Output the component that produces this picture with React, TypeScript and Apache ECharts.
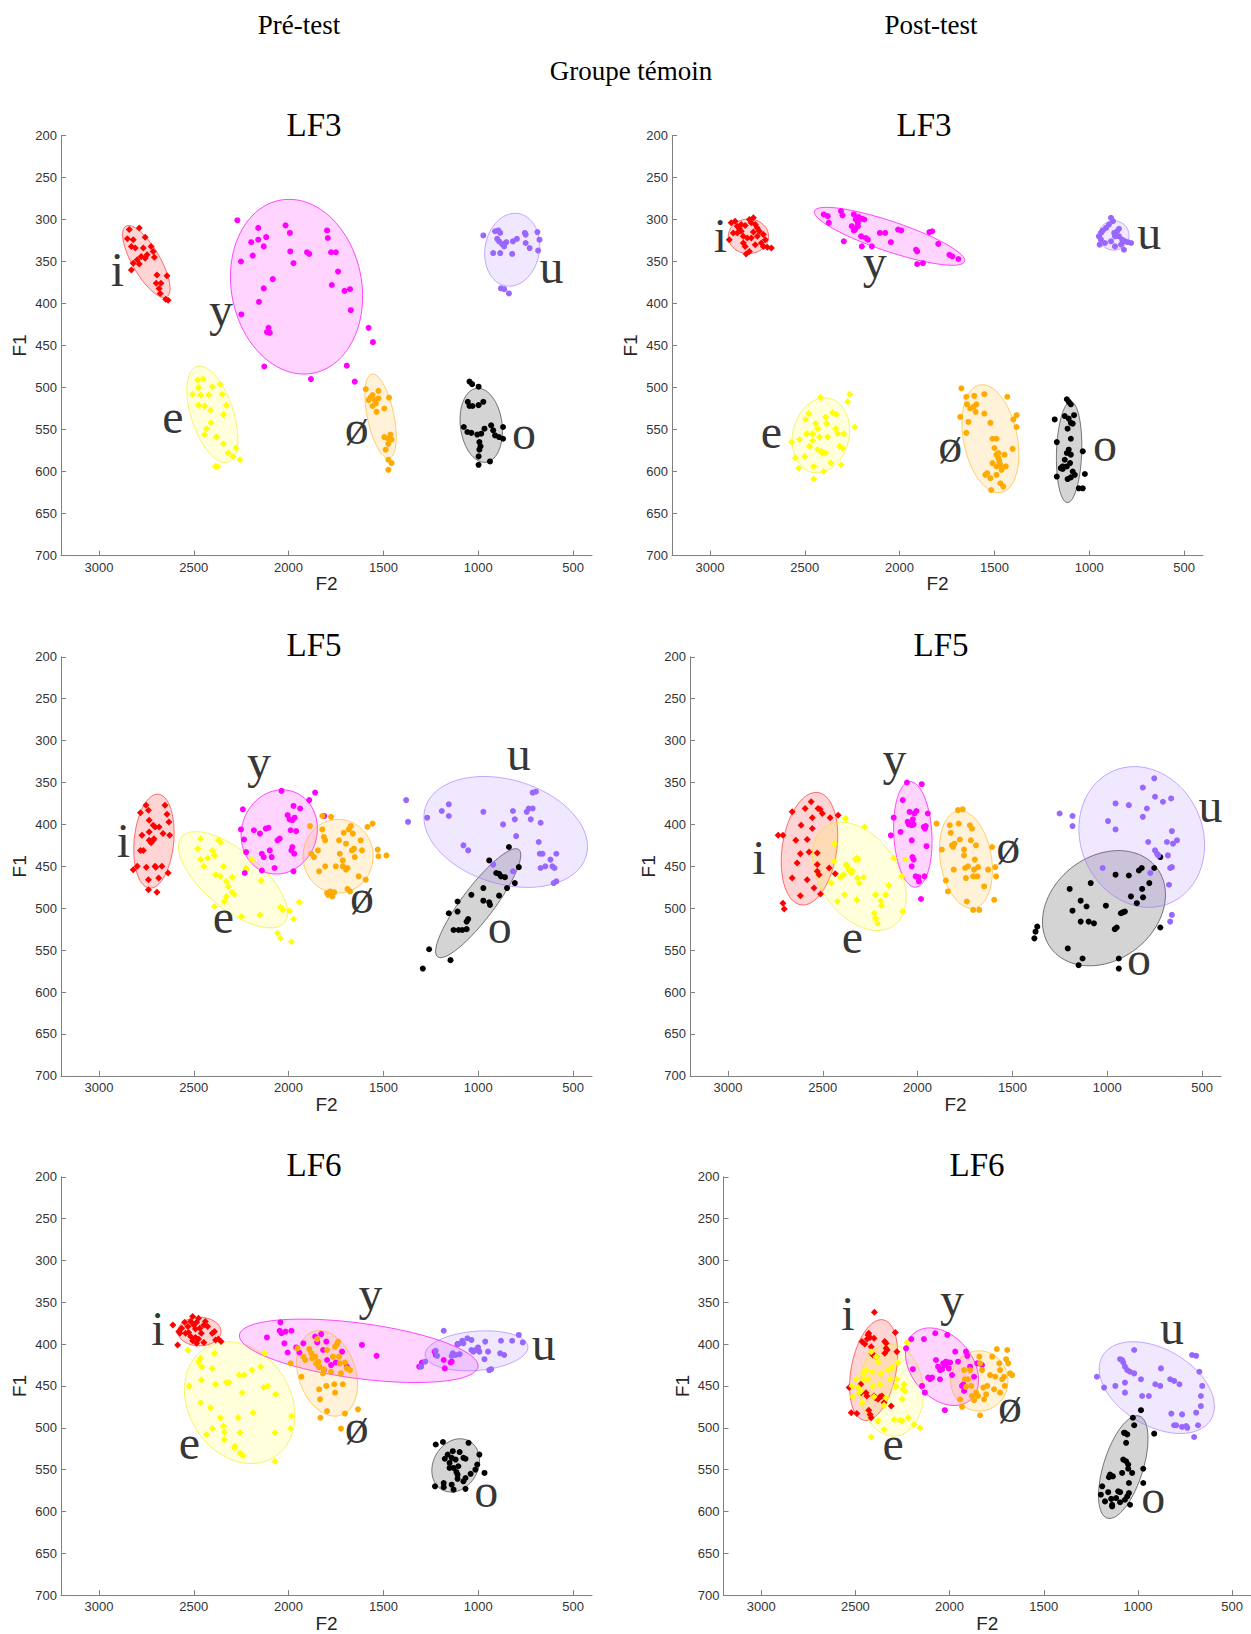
import { useEffect, useRef } from 'react';
import * as echarts from 'echarts';

// ---------- shared categories / ticks ----------
const VOWELS = ['i', 'e', 'y', 'ø', 'o', 'u'];
const X_TICKS = [500, 1000, 1500, 2000, 2500, 3000];
const Y_TICKS = [200, 250, 300, 350, 400, 450, 500, 550, 600, 650, 700];
const COLUMN_HEADERS = ['Pré-test', 'Post-test'];
const GROUP_TITLE = 'Groupe témoin';
const PANEL_TITLES = ['LF3', 'LF3', 'LF5', 'LF5', 'LF6', 'LF6'];

// ---------- LF3 pré-test ----------
const lf3Pre_i = [[2840,312],[2787,310],[2850,323],[2819,324],[2756,321],[2829,332],[2808,334],[2766,334],[2725,332],[2714,338],[2746,342],[2777,344],[2756,346],[2798,348],[2708,345],[2819,352],[2787,353],[2829,360],[2694,366],[2641,367],[2698,376],[2673,376],[2683,382],[2677,388],[2648,395],[2635,396]];
const lf3Pre_e = [[2479,491],[2450,490],[2475,500],[2506,508],[2464,509],[2402,499],[2360,496],[2350,508],[2422,509],[2475,521],[2443,522],[2412,527],[2329,521],[2343,532],[2410,542],[2433,549],[2443,556],[2381,559],[2343,567],[2277,572],[2318,578],[2293,582],[2256,586],[2385,594],[2375,594]];
const lf3Pre_y = [[2270,301],[2251,350],[2197,327],[2189,343],[2160,310],[2160,324],[2131,332],[2118,321],[2131,382],[2156,398],[2083,371],[2016,307],[1993,316],[1991,338],[1974,352],[1903,339],[1891,341],[1797,313],[1793,322],[1776,339],[1751,339],[1739,362],[1772,378],[1705,385],[1676,383],[1672,408],[2249,413],[2106,429],[2099,435],[2114,434],[2128,475],[1882,490],[1693,474],[1651,493],[1578,429],[1555,446]];
const lf3Pre_oe = [[1593,502],[1526,504],[1557,509],[1568,512],[1578,515],[1547,515],[1526,513],[1540,519],[1470,512],[1557,522],[1495,525],[1536,529],[1495,559],[1474,561],[1457,562],[1463,556],[1474,567],[1488,574],[1474,586],[1457,590],[1474,598]];
const lf3Pre_o = [[1046,493],[1032,496],[998,499],[1055,517],[1046,522],[998,521],[973,517],[1030,522],[1076,547],[1057,553],[1036,554],[1005,556],[984,555],[967,549],[932,545],[921,551],[890,559],[869,561],[911,557],[869,547],[994,565],[988,570],[994,574],[998,582],[998,592],[938,588]];
const lf3Pre_u = [[973,319],[911,314],[894,313],[884,316],[900,323],[890,326],[875,329],[852,327],[863,332],[817,326],[796,323],[754,316],[750,318],[750,328],[729,334],[688,315],[677,324],[684,337],[921,340],[884,340],[821,341],[880,382],[863,383],[838,388]];
// ellipse rows: [vowel index, centre F2, centre F1, major-axis tip F2, tip F1, minor/major ratio]
const lf3Pre_ellipses = [[0,2750,350,2858,308,0.34],[1,2402,532,2485,475,0.42],[2,1958,380,2045,277,0.74],[3,1515,534,1561,484,0.31],[4,984,545,1009,501,0.56],[5,821,336,786,293,0.74]];
const lf3Pre_labels = [[2902,360,'i'],[2610,535,'e'],[2356,407,'y'],[1641,548,'ø'],[759,553,'o'],[613,356,'u']];

// ---------- LF3 post-test ----------
const lf3Post_i = [[2888,304],[2867,302],[2856,308],[2835,306],[2814,307],[2792,300],[2782,304],[2771,298],[2761,306],[2750,310],[2739,314],[2835,314],[2856,316],[2877,316],[2824,320],[2803,322],[2782,322],[2750,320],[2718,318],[2708,324],[2729,328],[2761,330],[2814,332],[2824,328],[2809,341],[2792,338],[2697,333],[2676,334],[2898,324],[2845,311],[2771,315],[2718,332]];
const lf3Post_e = [[2570,565],[2549,584],[2527,562],[2532,596],[2496,538],[2491,555],[2500,582],[2479,531],[2474,570],[2458,563],[2453,594],[2453,609],[2443,543],[2432,549],[2422,559],[2417,512],[2411,576],[2407,578],[2400,600],[2390,535],[2385,543],[2379,559],[2362,590],[2354,530],[2337,549],[2333,532],[2326,555],[2316,570],[2309,592],[2301,572],[2294,555],[2273,517],[2263,508],[2237,547],[2458,555],[2390,578],[2432,574]];
const lf3Post_y = [[2400,294],[2379,296],[2373,304],[2309,290],[2301,295],[2241,294],[2231,300],[2216,297],[2252,308],[2241,313],[2199,299],[2186,300],[2220,308],[2178,322],[2167,324],[2294,326],[2199,332],[2146,332],[2104,316],[2076,316],[2046,327],[2008,312],[1991,313],[1913,336],[1907,338],[1907,353],[1877,352],[1843,315],[1828,314],[1796,329],[1737,342],[1722,344],[1690,347],[2203,320],[2235,312],[2220,304]];
const lf3Post_oe = [[1674,501],[1648,511],[1644,520],[1606,510],[1595,520],[1599,529],[1610,523],[1627,525],[1680,535],[1637,541],[1648,554],[1553,508],[1553,531],[1521,542],[1432,511],[1383,533],[1400,538],[1383,547],[1404,573],[1510,561],[1489,561],[1500,572],[1489,580],[1479,584],[1474,588],[1468,592],[1489,594],[1510,590],[1440,594],[1462,598],[1538,602],[1521,608],[1489,604],[1548,604],[1468,614],[1453,618],[1517,622],[1447,580],[1479,578]];
const lf3Post_o = [[1182,538],[1171,565],[1171,606],[1118,514],[1108,517],[1097,520],[1129,534],[1108,537],[1097,542],[1114,549],[1087,543],[1080,533],[1097,561],[1108,574],[1118,578],[1097,580],[1034,576],[1140,594],[1118,594],[1101,590],[1114,609],[1097,607],[1087,600],[1076,604],[1023,603],[1055,620],[1034,620],[1140,597],[1129,586],[1150,596]];
const lf3Post_u = [[885,298],[875,302],[896,306],[911,310],[928,313],[938,316],[949,320],[938,324],[945,330],[917,328],[885,326],[864,320],[853,314],[843,320],[826,324],[811,326],[796,327],[779,328],[832,330],[817,336],[864,332],[843,311],[868,316]];
const lf3Post_ellipses = [[0,2797,320,2691,320,0.86],[1,2415,557,2369,513,0.74],[2,2053,320,2449,290,0.19],[3,1521,561,1578,497,0.49],[4,1106,577,1097,517,0.25],[5,870,319,790,319,0.97]];
const lf3Post_labels = [[2945,319,'i'],[2676,552,'e'],[2131,350,'y'],[1733,569,'ø'],[917,568,'o'],[684,315,'u']];

// ---------- LF5 pré-test ----------
const lf5Pre_i = [[2819,454],[2798,450],[2781,386],[2773,413],[2781,431],[2766,431],[2752,377],[2739,383],[2735,395],[2735,409],[2735,419],[2725,422],[2714,419],[2704,403],[2710,417],[2704,450],[2700,451],[2750,451],[2739,466],[2739,478],[2714,401],[2683,403],[2668,450],[2662,411],[2652,377],[2641,388],[2631,397],[2627,413],[2635,458],[2685,464],[2694,481]];
const lf5Pre_e = [[2464,417],[2479,429],[2464,442],[2447,450],[2427,440],[2402,431],[2391,437],[2370,419],[2360,421],[2343,450],[2385,460],[2360,462],[2329,468],[2297,463],[2318,474],[2297,481],[2329,486],[2287,483],[2391,498],[2339,492],[2224,452],[2224,454],[2193,442],[2249,510],[2151,508],[2145,467],[2043,499],[2030,502],[1995,503],[1974,513],[2043,536],[1985,540],[1943,493],[2058,530]];
const lf5Pre_y = [[2251,406],[2235,418],[2224,433],[2241,382],[2183,407],[2151,411],[2141,435],[2131,439],[2120,405],[2099,431],[2089,439],[2106,404],[2074,452],[2058,419],[2047,417],[2037,360],[2005,389],[1995,394],[1980,395],[1974,378],[1968,392],[1989,407],[1985,431],[1960,408],[1980,427],[1970,435],[1939,381],[1974,456],[1891,371],[1860,362],[1812,390],[2141,455],[2231,458]];
const lf5Pre_oe = [[1887,402],[1880,435],[1866,439],[1845,431],[1839,456],[1822,406],[1814,415],[1822,390],[1807,419],[1776,391],[1807,450],[1797,482],[1791,484],[1780,480],[1770,486],[1759,481],[1751,450],[1734,419],[1730,435],[1714,443],[1714,450],[1709,410],[1697,423],[1697,454],[1689,452],[1682,406],[1676,480],[1672,402],[1666,431],[1655,429],[1651,439],[1661,411],[1630,462],[1620,419],[1613,431],[1593,466],[1584,403],[1557,399],[1530,430],[1526,438],[1484,437],[1689,477]];
const lf5Pre_o = [[1292,572],[1259,549],[1146,562],[1155,506],[1109,492],[1109,504],[1103,526],[1130,526],[1084,526],[1061,525],[1061,516],[1053,513],[1036,484],[973,491],[942,493],[938,496],[890,485],[942,443],[905,458],[890,459],[880,462],[859,463],[838,427],[807,470],[786,451],[848,476],[973,476]];
const lf5Pre_u = [[1380,371],[1370,397],[1269,392],[1192,384],[1155,376],[1155,390],[1078,425],[1053,431],[973,385],[921,448],[869,400],[817,384],[807,394],[800,414],[744,385],[734,381],[713,381],[723,394],[713,362],[696,361],[681,421],[671,398],[661,435],[675,435],[671,452],[646,450],[619,442],[609,450],[588,435],[598,452],[602,470],[588,468],[817,456]];
const lf5Pre_ellipses = [[0,2710,420,2687,364,0.42],[1,2293,466,2564,415,0.43],[2,2049,409,1974,361,0.88],[3,1739,438,1734,394,0.95],[4,1000,494,786,430,0.24],[5,855,409,431,438,0.62]];
const lf5Pre_labels = [[2871,419,'i'],[2343,510,'e'],[2156,325,'y'],[1613,486,'ø'],[886,522,'o'],[786,315,'u']];

// ---------- LF5 post-test ----------
const lf5Post_i = [[2735,413],[2710,413],[2710,494],[2703,501],[2661,385],[2661,464],[2642,419],[2635,446],[2618,435],[2618,485],[2614,401],[2593,381],[2582,418],[2582,466],[2572,433],[2561,373],[2555,392],[2555,405],[2546,476],[2529,434],[2529,448],[2529,456],[2525,381],[2519,460],[2514,382],[2512,483],[2502,387],[2466,452],[2461,392],[2434,459],[2419,389]];
const lf5Post_e = [[2438,423],[2440,444],[2455,470],[2423,492],[2406,463],[2391,460],[2385,484],[2377,448],[2370,450],[2360,455],[2349,458],[2343,455],[2328,442],[2321,440],[2317,464],[2313,442],[2307,470],[2285,463],[2279,403],[2381,393],[2321,490],[2222,484],[2194,491],[2169,484],[2152,473],[2084,462],[2078,504],[2126,440],[2228,506],[2211,518],[2222,512],[2190,497],[2063,442]];
const lf5Post_y = [[2141,413],[2126,392],[2090,409],[2078,371],[2056,350],[2052,397],[2046,400],[2042,385],[2031,401],[2025,394],[2021,400],[2017,387],[2006,384],[2031,419],[2027,439],[2021,442],[2031,450],[2010,462],[1995,463],[1993,468],[1978,352],[1967,403],[1961,405],[1957,402],[1953,426],[1946,387],[1982,489],[1963,462]];
const lf5Post_oe = [[1900,399],[1872,430],[1851,467],[1840,480],[1830,401],[1825,410],[1819,425],[1813,427],[1809,454],[1805,423],[1787,383],[1783,399],[1777,418],[1762,382],[1755,430],[1755,437],[1749,452],[1745,464],[1740,492],[1734,450],[1724,401],[1719,419],[1713,405],[1707,462],[1702,454],[1698,442],[1692,425],[1685,462],[1681,451],[1675,502],[1707,502],[1649,474],[1628,454],[1607,427],[1590,451],[1586,462],[1596,490]];
const lf5Post_o = [[1384,536],[1378,528],[1369,522],[1208,548],[1198,477],[1183,503],[1151,568],[1140,491],[1130,560],[1140,516],[1109,498],[1098,516],[1087,470],[1070,518],[1007,497],[956,460],[960,525],[950,523],[939,560],[939,572],[928,506],[918,505],[907,504],[886,461],[875,486],[844,494],[833,455],[818,452],[816,477],[811,487],[778,470],[752,452],[720,439],[720,523]];
const lf5Post_u = [[1251,387],[1183,390],[1183,402],[996,396],[956,375],[956,406],[886,377],[812,356],[791,381],[812,391],[784,421],[752,345],[748,367],[706,373],[685,421],[663,369],[659,408],[653,423],[632,419],[659,451],[680,437],[668,452],[737,435],[773,458],[748,431],[731,437],[1024,452],[659,508],[668,516],[674,472]];
const lf5Post_ellipses = [[0,2570,429,2525,362,0.48],[1,2307,462,2487,403,0.65],[2,2025,412,2040,349,0.36],[3,1745,442,1787,384,0.52],[4,1017,500,738,452,0.78],[5,818,415,966,336,0.85]];
const lf5Post_labels = [[2837,440,'i'],[2343,534,'e'],[2122,321,'y'],[1522,426,'ø'],[833,560,'o'],[455,377,'u']];

// ---------- LF6 pré-test ----------
const lf6Pre_i = [[2610,377],[2579,385],[2564,381],[2548,374],[2531,379],[2527,386],[2516,373],[2506,367],[2500,377],[2491,382],[2485,374],[2475,369],[2468,381],[2460,387],[2447,377],[2439,373],[2427,379],[2402,387],[2391,385],[2385,395],[2370,394],[2356,397],[2447,398],[2475,394],[2491,392],[2506,396],[2516,391],[2543,387],[2573,387],[2585,401],[2485,399]];
const lf6Pre_e = [[2531,407],[2464,417],[2458,427],[2475,421],[2391,411],[2402,429],[2523,450],[2460,443],[2385,448],[2464,470],[2412,476],[2433,508],[2402,501],[2360,488],[2343,498],[2339,505],[2339,514],[2287,524],[2283,522],[2256,530],[2241,533],[2329,446],[2314,446],[2260,437],[2235,437],[2245,458],[2266,488],[2256,506],[2193,431],[2147,427],[2131,452],[2110,450],[2068,460],[2187,482],[1985,486],[1989,501],[2072,506],[2072,540],[2126,411]];
const lf6Pre_y = [[2114,392],[2047,384],[2037,387],[2022,399],[2016,385],[1985,384],[2043,374],[2005,410],[1960,404],[1943,410],[1922,399],[1860,391],[1849,398],[1828,388],[1818,407],[1801,397],[1797,419],[1776,425],[1751,422],[1718,409],[1693,427],[1613,401],[1536,414],[1230,409],[1224,413],[1182,419],[1146,422],[1140,421],[1176,429],[1109,400],[1297,422],[1311,427],[1839,427],[1814,431]];
const lf6Pre_oe = [[1989,423],[1953,405],[1932,439],[1922,415],[1912,419],[1891,406],[1880,411],[1876,417],[1860,415],[1855,423],[1843,421],[1839,427],[1839,454],[1834,466],[1832,488],[1818,435],[1814,430],[1801,450],[1797,480],[1776,433],[1766,415],[1759,448],[1755,458],[1745,400],[1739,397],[1734,415],[1730,423],[1724,435],[1714,448],[1703,422],[1693,429],[1676,431],[1634,478],[1703,483],[1724,501],[1755,403],[1797,407],[1849,394]];
const lf6Pre_o = [[1224,520],[1186,517],[1182,566],[1228,570],[1182,571],[1176,537],[1161,532],[1151,542],[1140,536],[1151,548],[1134,528],[1130,548],[1119,538],[1115,553],[1105,546],[1098,529],[1078,536],[1067,537],[1109,561],[1078,564],[1051,518],[1067,560],[1040,555],[1005,544],[1015,550],[994,532],[967,554],[1130,574],[1067,573],[1140,568],[1109,556]];
const lf6Pre_u = [[1301,427],[1280,421],[1224,408],[1217,414],[1182,384],[1140,414],[1134,411],[1119,413],[1105,400],[1098,412],[1084,396],[1078,399],[1057,393],[1036,395],[1036,407],[1026,409],[1015,407],[1001,404],[994,409],[967,418],[948,409],[942,431],[932,430],[880,396],[863,413],[884,411],[821,396],[786,389],[765,398],[963,397]];
const lf6Pre_ellipses = [[0,2470,385,2356,385,0.66],[1,2258,470,2441,405,0.79],[2,1630,408,1001,427,0.23],[3,1797,435,1870,385,0.65],[4,1119,545,1046,516,0.8],[5,1009,408,738,403,0.38]];
const lf6Pre_labels = [[2689,381,'i'],[2523,518,'e'],[1568,339,'y'],[1641,499,'ø'],[957,575,'o'],[654,399,'u']];

// ---------- LF6 post-test ----------
const lf6Post_i = [[2522,482],[2492,483],[2533,452],[2471,448],[2469,458],[2465,397],[2450,400],[2437,394],[2439,462],[2433,389],[2429,387],[2422,392],[2416,403],[2412,411],[2407,413],[2401,393],[2399,362],[2390,415],[2422,484],[2416,488],[2429,479],[2401,462],[2395,464],[2380,466],[2369,463],[2359,462],[2348,470],[2344,397],[2337,399],[2337,405],[2344,411],[2331,407],[2310,474],[2288,386],[2280,409],[2444,458]];
const lf6Post_e = [[2518,450],[2514,463],[2497,442],[2486,452],[2480,458],[2471,456],[2465,470],[2458,435],[2454,442],[2444,431],[2433,442],[2416,409],[2412,433],[2407,450],[2401,463],[2390,415],[2380,421],[2369,448],[2365,435],[2348,473],[2337,464],[2327,431],[2316,442],[2305,428],[2295,490],[2288,452],[2284,450],[2278,442],[2274,422],[2263,491],[2252,492],[2248,454],[2242,448],[2237,456],[2225,398],[2220,488],[2189,496],[2157,500],[2252,466],[2416,511],[2348,502],[2380,492]];
const lf6Post_y = [[2231,405],[2203,394],[2195,430],[2146,450],[2136,394],[2131,458],[2114,440],[2104,442],[2093,440],[2076,387],[2072,419],[2061,427],[2051,431],[2040,430],[2034,423],[2025,425],[2019,421],[2012,389],[2004,429],[2008,422],[1997,422],[1987,437],[1970,409],[1955,421],[1934,450],[1927,448],[1923,456],[1913,409],[1906,414],[1891,427],[1870,439],[1853,423],[1828,425],[2025,479],[2051,442]];
const lf6Post_oe = [[1944,466],[1934,475],[1923,431],[1919,442],[1913,451],[1902,442],[1891,431],[1885,450],[1881,462],[1870,467],[1859,458],[1849,462],[1842,415],[1838,423],[1828,431],[1821,452],[1817,466],[1806,460],[1800,450],[1838,485],[1785,437],[1774,415],[1764,454],[1757,439],[1749,406],[1736,423],[1732,431],[1721,442],[1711,439],[1707,450],[1700,418],[1694,407],[1689,423],[1679,435],[1668,437],[1732,458]];
const lf6Post_o = [[1190,570],[1175,588],[1197,580],[1158,577],[1154,559],[1148,556],[1142,585],[1137,592],[1137,594],[1133,558],[1116,584],[1105,576],[1095,577],[1084,554],[1078,538],[1074,506],[1069,506],[1063,540],[1063,518],[1057,508],[1052,544],[1052,549],[1048,566],[1048,578],[1057,582],[1042,592],[1031,554],[1027,488],[1020,497],[984,479],[972,549],[972,566],[914,507],[1095,589],[1069,586]];
const lf6Post_u = [[1218,439],[1180,452],[1120,450],[1095,418],[1084,419],[1078,422],[1069,427],[1057,431],[1042,433],[1020,435],[1069,446],[1069,458],[1020,407],[984,442],[978,462],[942,462],[908,448],[882,450],[878,429],[808,444],[780,448],[823,483],[766,484],[808,497],[797,497],[766,499],[744,498],[738,500],[702,511],[713,413],[691,414],[674,433],[666,462],[666,474],[681,497],[691,482],[659,450],[829,442]];
const lf6Post_ellipses = [[0,2403,431,2352,371,0.44],[1,2308,455,2327,400,0.69],[2,2040,427,2189,387,0.7],[3,1842,444,1842,408,0.95],[4,1078,547,993,486,0.37],[5,900,452,612,490,0.61]];
const lf6Post_labels = [[2539,363,'i'],[2299,519,'e'],[1987,347,'y'],[1679,473,'ø'],[919,582,'o'],[819,380,'u']];

// ---------- styles ----------
const POINT_COLORS = ['#ff0000', '#ffff00', '#ff00ff', '#ffaa00', '#000000', '#9966ff'];
const FILL_COLORS = ['rgba(255,0,0,0.17)', 'rgba(255,255,0,0.14)', 'rgba(255,0,255,0.17)', 'rgba(255,170,0,0.15)', 'rgba(0,0,0,0.17)', 'rgba(153,102,255,0.15)'];
const EDGE_COLORS = ['rgba(255,0,0,0.55)', 'rgba(235,235,0,0.55)', 'rgba(255,0,255,0.7)', 'rgba(255,170,0,0.55)', 'rgba(0,0,0,0.5)', 'rgba(153,102,255,0.55)'];
const SERIF = '"Liberation Serif", "Times New Roman", serif';
const SANS = '"Liberation Sans", Arial, sans-serif';

const PANELS = [
  { points: [lf3Pre_i, lf3Pre_e, lf3Pre_y, lf3Pre_oe, lf3Pre_o, lf3Pre_u], ellipses: lf3Pre_ellipses, labels: lf3Pre_labels },
  { points: [lf3Post_i, lf3Post_e, lf3Post_y, lf3Post_oe, lf3Post_o, lf3Post_u], ellipses: lf3Post_ellipses, labels: lf3Post_labels },
  { points: [lf5Pre_i, lf5Pre_e, lf5Pre_y, lf5Pre_oe, lf5Pre_o, lf5Pre_u], ellipses: lf5Pre_ellipses, labels: lf5Pre_labels },
  { points: [lf5Post_i, lf5Post_e, lf5Post_y, lf5Post_oe, lf5Post_o, lf5Post_u], ellipses: lf5Post_ellipses, labels: lf5Post_labels },
  { points: [lf6Pre_i, lf6Pre_e, lf6Pre_y, lf6Pre_oe, lf6Pre_o, lf6Pre_u], ellipses: lf6Pre_ellipses, labels: lf6Pre_labels },
  { points: [lf6Post_i, lf6Post_e, lf6Post_y, lf6Post_oe, lf6Post_o, lf6Post_u], ellipses: lf6Post_ellipses, labels: lf6Post_labels },
];

// layout (pixels)
const GRIDS = [
  { left: 61, top: 135.5, width: 531, height: 420, titleX: 314, titleY: 125 },
  { left: 672, top: 135.5, width: 531, height: 420, titleX: 924, titleY: 125 },
  { left: 61, top: 656.8, width: 531, height: 419, titleX: 314, titleY: 645 },
  { left: 690, top: 656.8, width: 531, height: 419, titleX: 941, titleY: 645 },
  { left: 61, top: 1176.8, width: 531, height: 419, titleX: 314, titleY: 1165 },
  { left: 723.5, top: 1176.8, width: 531, height: 419, titleX: 977, titleY: 1165 },
];

function textEl(text: string, x: number, y: number, size: number) {
  return {
    type: 'text',
    x,
    y,
    style: {
      text,
      font: `${size}px ${SERIF}`,
      fill: '#000',
      align: 'center',
      verticalAlign: 'middle',
      textAlign: 'center',
      textVerticalAlign: 'middle',
    },
  };
}

const plain = (v: number) => String(v);

function buildOption() {
  const grid: any[] = [];
  const xAxis: any[] = [];
  const yAxis: any[] = [];
  const series: any[] = [];
  const graphic: any[] = [
    textEl(COLUMN_HEADERS[0], 299, 25, 27),
    textEl(COLUMN_HEADERS[1], 931, 25, 27),
    textEl(GROUP_TITLE, 631, 71, 27),
  ];

  PANELS.forEach((panel, p) => {
    const g = GRIDS[p];
    grid.push({ left: g.left, top: g.top, width: g.width, height: g.height, containLabel: false });
    graphic.push(textEl(PANEL_TITLES[p], g.titleX, g.titleY, 33));
    xAxis.push({
      gridIndex: p,
      type: 'value',
      inverse: true,
      min: 400,
      max: 3200,
      name: 'F2',
      nameLocation: 'middle',
      nameGap: 18,
      nameTextStyle: { fontSize: 19, fontFamily: SANS, color: '#262626' },
      axisLine: { show: true, onZero: false, lineStyle: { color: '#808080', width: 1 } },
      axisTick: { show: true, inside: true, length: 5, customValues: X_TICKS, lineStyle: { color: '#808080' } },
      axisLabel: { customValues: X_TICKS, formatter: plain, fontSize: 13, fontFamily: SANS, color: '#333', margin: 5 },
      splitLine: { show: false },
    });
    yAxis.push({
      gridIndex: p,
      type: 'value',
      inverse: true,
      min: 200,
      max: 700,
      interval: 50,
      name: 'F1',
      nameLocation: 'middle',
      nameGap: 32,
      nameTextStyle: { fontSize: 19, fontFamily: SANS, color: '#262626' },
      axisLine: { show: true, onZero: false, lineStyle: { color: '#808080', width: 1 } },
      axisTick: { show: true, inside: true, length: 5, customValues: Y_TICKS, lineStyle: { color: '#808080' } },
      axisLabel: { customValues: Y_TICKS, formatter: plain, fontSize: 13, fontFamily: SANS, color: '#333', margin: 4 },
      splitLine: { show: false },
    });

    series.push({
      type: 'custom',
      xAxisIndex: p,
      yAxisIndex: p,
      z: 1,
      silent: true,
      encode: { x: [1, 3], y: [2, 4] },
      data: panel.ellipses,
      renderItem: (params: any, api: any) => {
        const vi = api.value(0);
        const c = api.coord([api.value(1), api.value(2)]);
        const t = api.coord([api.value(3), api.value(4)]);
        const ratio = api.value(5);
        const ax = t[0] - c[0];
        const ay = t[1] - c[1];
        const bx = -ay * ratio;
        const by = ax * ratio;
        const pts: number[][] = [];
        const n = 90;
        for (let k = 0; k < n; k++) {
          const a = (k / n) * Math.PI * 2;
          pts.push([c[0] + Math.cos(a) * ax + Math.sin(a) * bx, c[1] + Math.cos(a) * ay + Math.sin(a) * by]);
        }
        return {
          type: 'polygon',
          shape: { points: pts },
          style: { fill: FILL_COLORS[vi], stroke: EDGE_COLORS[vi], lineWidth: 1 },
        };
      },
    });

    panel.points.forEach((pts, vi) => {
      const diamond = vi <= 1;
      series.push({
        type: 'scatter',
        name: VOWELS[vi],
        xAxisIndex: p,
        yAxisIndex: p,
        z: 2,
        silent: true,
        symbol: diamond ? 'diamond' : 'circle',
        symbolSize: diamond ? 7 : 6,
        itemStyle: { color: POINT_COLORS[vi], opacity: 1 },
        data: pts,
      });
    });

    series.push({
      type: 'scatter',
      xAxisIndex: p,
      yAxisIndex: p,
      z: 3,
      silent: true,
      symbol: 'circle',
      symbolSize: 1,
      itemStyle: { color: 'rgba(0,0,0,0)' },
      label: {
        show: true,
        position: 'inside',
        align: 'center',
        verticalAlign: 'middle',
        formatter: (prm: any) => prm.value[2],
        fontFamily: SERIF,
        fontSize: 48,
        color: '#000',
      },
      labelLayout: { hideOverlap: false },
      data: panel.labels,
    });
  });

  return {
    animation: false,
    backgroundColor: '#ffffff',
    grid,
    xAxis,
    yAxis,
    series,
    graphic,
  };
}

export default function App() {
  const ref = useRef<HTMLDivElement>(null);
  useEffect(() => {
    if (!ref.current) return;
    const chart = echarts.init(ref.current, null, { renderer: 'svg' });
    chart.setOption(buildOption() as any);
    return () => chart.dispose();
  }, []);
  return (
    <div
      ref={ref}
      style={{ position: 'absolute', left: 0, top: 0, width: 1251, height: 1634, background: '#fff' }}
    />
  );
}
